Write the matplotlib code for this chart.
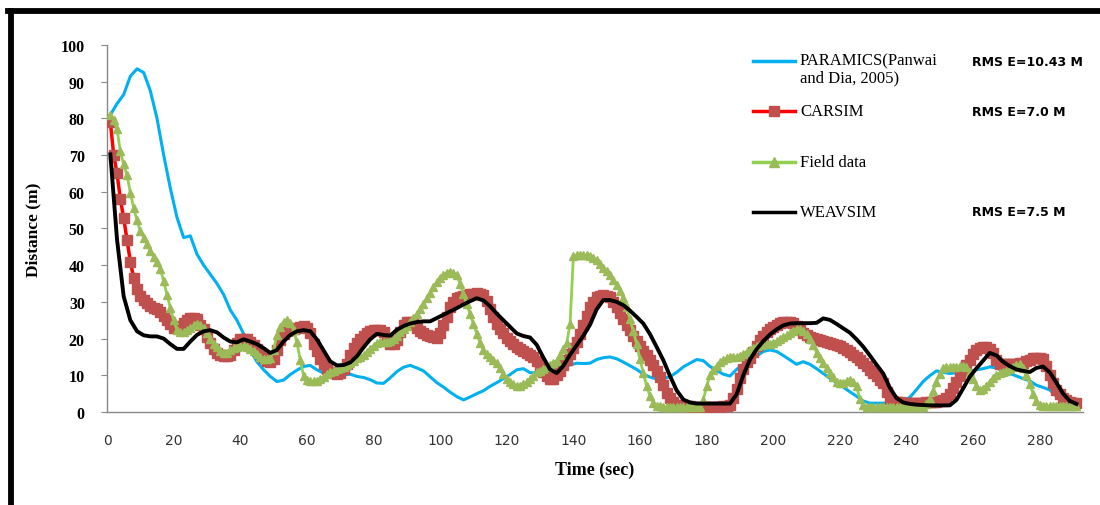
import numpy as np
import matplotlib
matplotlib.use("Agg")
import matplotlib.pyplot as plt
from matplotlib.lines import Line2D

# time axes (sec): line-only series every 2 s, marker series every 1 s
time_2s = np.arange(1, 292, 2)
time_1s = np.arange(1, 292, 1)

paramics = [81, 84, 86.5, 91.5, 93.5, 92.5, 87.5, 80, 70, 61,
            53, 47.5, 48, 43, 40, 37.5, 35, 32, 27.8, 25,
            21.3, 16.8, 13.7, 11.5, 9.7, 8.3, 8.7, 10.2, 11.4, 12.4,
            12.7, 11.5, 10.6, 10.1, 9.9, 10.1, 10.3, 9.7, 9.4, 8.8,
            7.9, 7.8, 9.3, 11, 12.2, 12.7, 12, 11.2, 9.6, 8,
            6.8, 5.4, 4.2, 3.3, 4.1, 5, 5.8, 7, 8, 9.1,
            10.2, 11.5, 11.8, 10.7, 10.7, 11.1, 11.5, 11.9, 12.3, 12.8,
            13.3, 13.2, 13.3, 14.3, 14.8, 15, 14.5, 13.6, 12.6, 11.6,
            10.3, 9.5, 9, 9.1, 9.6, 10.8, 12.3, 13.3, 14.3, 14,
            12.4, 11.3, 10.3, 9.8, 11.6, 13, 14.2, 15.2, 16.5, 16.9,
            16.5, 15.4, 14.2, 13, 13.7, 13, 11.8, 10.5, 9.2, 8,
            6.8, 5.5, 4.3, 3, 2.4, 2.4, 2.4, 2.4, 2.5, 3,
            4, 6.1, 8.3, 9.9, 11.2, 10.8, 10.5, 10.7, 10.9, 11.1,
            11.5, 11.8, 12.3, 12, 11.3, 10.5, 9.8, 9.1, 8.5, 7.3,
            6.7, 6, 4.3, 2.8, 2, 1.9]

carsim = [79, 70, 65, 58, 52.8, 46.8, 41, 36.5, 33.5, 31.5,
          30.5, 29.6, 29, 28.4, 28, 27.3, 26.2, 25, 24, 22.9,
          23, 23.3, 24.3, 25.1, 25.6, 25.6, 25.3, 23.8, 22.5, 20.4,
          18.8, 17.2, 16.2, 15.4, 15.2, 15.2, 15.5, 17, 18.9, 19.8,
          20, 19.9, 19.2, 18.2, 17.1, 16, 14.8, 14, 13.6, 14.5,
          16.8, 19.5, 21.2, 22, 22.3, 22.5, 22.8, 23.1, 23.3, 23,
          21.5, 18.5, 16.6, 14.5, 13, 11.8, 10.9, 10.5, 10.3, 10.7,
          11.7, 13.2, 15.5, 17.4, 18.8, 19.9, 20.8, 21.5, 22, 22.4,
          22.4, 22.3, 21.8, 20, 18.5, 18.6, 19.5, 21.8, 23.8, 24.4,
          24.6, 24, 23, 22, 21.5, 21, 20.6, 20.4, 20.2, 21.5,
          23.8, 26, 28.5, 30, 31, 31.4, 31.7, 31.9, 32.1, 32.2,
          32.3, 32.1, 31.8, 30.2, 28, 26, 24, 22.5, 21.4, 20.2,
          19.3, 18.4, 17.8, 17.1, 16.6, 16.1, 15.6, 15, 13.8, 12.3,
          10.8, 9.7, 9, 8.9, 10, 11.3, 12.8, 14.3, 15.8, 17.5,
          19.2, 21.3, 23.8, 26.2, 28.5, 30, 31.2, 31.7, 31.9, 31.7,
          31.3, 30, 28.5, 27, 25.3, 23.8, 22.4, 20.8, 19.3, 18,
          16.6, 15.4, 14.2, 12.8, 11.3, 9.4, 7.3, 5.3, 3.7, 2.6,
          2, 1.8, 1.7, 1.6, 1.5, 1.4, 1.3, 1.3, 1.3, 1.3,
          1.3, 1.3, 1.3, 1.4, 1.5, 1.6, 1.9, 3.8, 6.4, 9.2,
          11.8, 13.5, 14.8, 16.3, 18, 19.5, 20.7, 21.7, 22.5, 23.2,
          23.8, 24.2, 24.4, 24.6, 24.6, 24.2, 23.5, 22.5, 21.5, 20.9,
          20.5, 20.2, 19.9, 19.7, 19.4, 19.1, 18.9, 18.6, 18.3, 17.9,
          17.4, 16.9, 16.3, 15.6, 14.9, 14.1, 13.3, 12.4, 11.5, 10.6,
          9.7, 8.8, 7.8, 5.5, 3.6, 3, 2.7, 2.6, 2.5, 2.4,
          2.4, 2.4, 2.4, 2.5, 2.5, 2.6, 2.6, 2.7, 2.8, 3,
          3.2, 3.8, 5, 6.5, 8.1, 9.7, 11.2, 12.7, 14.2, 15.7,
          17, 17.5, 17.8, 17.8, 17.3, 16.2, 14.2, 13.2, 13, 13,
          13, 13.1, 13.2, 13.3, 13.4, 13.8, 14.3, 14.7, 14.8, 14.7,
          14.4, 12.5, 10.2, 8, 6.1, 4.8, 3.9, 3.2, 2.7, 2.5,
          2.4]

field = [80.8, 79.5, 77, 71, 67.5, 64.5, 59.8, 55.5, 52.2, 49.3,
         47.5, 45.7, 43.9, 42.3, 40.8, 39, 35.6, 32, 28.4, 25,
         22.4, 21.8, 21.7, 22.3, 23, 23.6, 24.1, 23.8, 23, 21.6,
         20, 18.6, 17.6, 16.6, 16, 16.1, 16.8, 17.5, 17.8, 18,
         17.9, 17.7, 17.3, 16.5, 15.7, 15, 14.5, 14.4, 14.6, 17,
         21, 23.2, 24.6, 25.1, 24.3, 22.3, 19, 14.2, 9.8, 8.8,
         8.5, 8.5, 8.5, 9, 9.6, 10.3, 10.8, 11.3, 11.7, 12,
         12.3, 12.8, 13.4, 13.9, 14.6, 15.1, 15.6, 16.3, 17.2, 18.1,
         18.8, 19, 19, 19.2, 19.4, 20, 20.8, 21.7, 22.6, 23.5,
         24.4, 25.5, 26.8, 28.1, 29.5, 31, 32.5, 34, 35.4, 36.6,
         37.4, 38, 38.2, 37.9, 37.2, 35, 32.1, 29.4, 26.7, 24,
         21.3, 18.8, 16.9, 15.8, 15, 14.1, 13.3, 12, 10.3, 9,
         8.2, 7.5, 7.1, 7.2, 7.6, 8.2, 9, 9.9, 10.8, 11.3,
         11.7, 12.2, 12.8, 13.4, 14, 15.4, 17.3, 18.8, 24, 42.5,
         42.7, 42.8, 42.8, 42.7, 42.4, 42, 41.3, 40.4, 39.3, 38.3,
         37.2, 36, 34.6, 33, 31, 28.5, 25.3, 22, 18.5, 14.5,
         10.5, 7, 4.3, 2.5, 1.6, 1.5, 1.4, 1.3, 1.3, 1.3,
         1.3, 1.3, 1.3, 1.3, 1.3, 1.3, 1.3, 1.3, 3.4, 7,
         10, 11.5, 12.5, 13.5, 14.2, 14.7, 15, 15.1, 15.1, 15.3,
         15.8, 16.4, 17, 17.5, 18, 18.3, 18.4, 18.4, 18.5, 18.9,
         19.3, 19.8, 20.3, 20.9, 21.5, 22.2, 22.7, 22.5, 22, 21.2,
         20, 18.2, 16.2, 14.6, 13.3, 12, 10.7, 9.4, 8.3, 7.8,
         7.8, 8.4, 8.8, 8.1, 7, 3.5, 1.8, 1.4, 1.3, 1.3,
         1.3, 1.3, 1.3, 1.3, 1.3, 1.3, 1.3, 1.3, 1.3, 1.3,
         1.3, 1.3, 1.3, 1.3, 1.3, 2.3, 3.6, 5.8, 8.2, 10.3,
         12.1, 12.2, 12.2, 12.3, 12.3, 12.4, 12.5, 12.3, 11, 9,
         7.2, 6, 6.3, 7.2, 8.3, 9.3, 10, 10.5, 10.8, 11.2,
         11.6, 12.2, 12.8, 13, 12, 10, 7.5, 5, 3, 2,
         1.6, 1.6, 1.6, 1.6, 1.6, 1.6, 1.6, 1.6, 1.6, 1.6,
         1.6]

weavsim = [70.2, 47, 31.5, 25, 22, 20.9, 20.6, 20.6, 20, 18.5,
           17.2, 17.2, 19.2, 21, 22, 22.3, 21.7, 20.3, 19.2, 19,
           19.8, 19.2, 18.5, 17.4, 16.1, 16.9, 19.2, 21, 22, 22.3,
           22, 19.8, 16.8, 13.8, 12.7, 12.8, 13.5, 15.2, 17.6, 19.8,
           21.3, 21, 20.8, 22.4, 23.4, 24.1, 24.5, 24.7, 24.7, 25.6,
           26.5, 27.4, 28.3, 29.3, 30.2, 31, 30.4, 28.8, 26.8, 25,
           23.2, 21.4, 20.7, 20.3, 18.3, 14.8, 11.6, 10.6, 12.6, 15.6,
           18.2, 20.8, 23.8, 28, 30.5, 30.5, 30, 29.1, 27.6, 25.9,
           24.1, 21.2, 17.7, 14.1, 9.8, 5.9, 3.4, 2.6, 2.3, 2.3,
           2.3, 2.3, 2.3, 2.3, 4.8, 10, 14.3, 17.1, 19.3, 21.1,
           22.5, 23.6, 24.1, 24.2, 24.2, 24.2, 24.3, 25.5, 25.1, 24,
           22.8, 21.6, 19.8, 17.8, 15.4, 12.9, 10.5, 6.6, 3.8, 2.6,
           2.2, 2, 1.9, 1.8, 1.8, 1.8, 1.8, 3.3, 6.4, 9.6,
           11.9, 14, 16.1, 15.4, 13.7, 12.5, 11.6, 11.2, 10.9, 12,
           12.4, 10.8, 8, 5, 3, 2.2]

labels = ["PARAMICS(Panwai\nand Dia, 2005)", "CARSIM", "Field data", "WEAVSIM"]
rmse_text = ["RMS E=10.43 M", "RMS E=7.0 M", None, "RMS E=7.5 M"]

SERIF = ["Liberation Serif", "DejaVu Serif"]

fig = plt.figure(figsize=(11, 5.06), dpi=100)
ax = fig.add_axes([0.0973, 0.1838, 0.8873, 0.7253])

ax.plot(time_2s, paramics, color="#00B0F0", lw=2.2, zorder=2)
ax.plot(time_1s, carsim, color="#FF0000", lw=2.5, marker="s", ms=7.2,
        mfc="#C0504D", mec="#C0504D", zorder=3)
ax.plot(time_1s, field, color="#92D050", lw=2, marker="^", ms=6,
        mfc="#9BBB59", mec="#9BBB59", zorder=4)
ax.plot(time_2s, weavsim, color="black", lw=2.8, zorder=5)

ax.set_xlim(0, 293)
ax.set_ylim(0, 100)
ax.set_xticks(range(0, 281, 20))
ax.set_yticks(range(0, 101, 10))

for s in ["top", "right"]:
    ax.spines[s].set_visible(False)
for s in ["left", "bottom"]:
    ax.spines[s].set_color("#888888")
    ax.spines[s].set_linewidth(1)

ax.tick_params(axis="y", direction="out", length=4, color="#888888", pad=12)
ax.tick_params(axis="x", length=0, pad=15, labelcolor="#333333")
for lb in ax.get_yticklabels():
    lb.set_fontfamily(SERIF)
    lb.set_fontweight("bold")
    lb.set_fontsize(11.5)
for lb in ax.get_xticklabels():
    lb.set_fontfamily("DejaVu Sans")
    lb.set_fontsize(10)

ax.set_xlabel("Time (sec)", fontfamily=SERIF, fontweight="bold", fontsize=13, labelpad=10)
ax.set_ylabel("Distance (m)", fontfamily=SERIF, fontweight="bold", fontsize=12.5, labelpad=14)

# legend drawn by hand (entries are widely spaced in the original)
W, H = 1100.0, 506.0
leg_y = [62, 112, 163, 213]
styles = [dict(color="#00B0F0", lw=2.5),
          dict(color="#FF0000", lw=2.5, marker="s", ms=7, mfc="#C0504D", mec="#C0504D"),
          dict(color="#92D050", lw=2.5, marker="^", ms=6.5, mfc="#9BBB59", mec="#9BBB59"),
          dict(color="black", lw=2.5)]
for i, y in enumerate(leg_y):
    fy = 1 - y / H
    fig.add_artist(Line2D([753 / W, 774 / W, 795 / W], [fy, fy, fy],
                          markevery=[1], **styles[i]))
    va = "top" if "\n" in labels[i] else "center"
    ty = fy + 9 / H if va == "top" else fy
    fig.text(800 / W, ty, labels[i], va=va, ha="left", fontfamily=SERIF,
             fontsize=12, linespacing=1.15)
    if rmse_text[i]:
        fig.text(972 / W, fy, rmse_text[i], va="center", ha="left",
                 fontfamily="DejaVu Sans", fontweight="bold", fontsize=9)

# thick frame on left and top
fig.add_artist(Line2D([10.5 / W, 10.5 / W], [0, 1 - 12 / H], color="black", lw=4.2))
fig.add_artist(Line2D([8 / W, 1], [1 - 12 / H, 1 - 12 / H], color="black", lw=4.2))

fig.savefig("out.png", dpi=100)
